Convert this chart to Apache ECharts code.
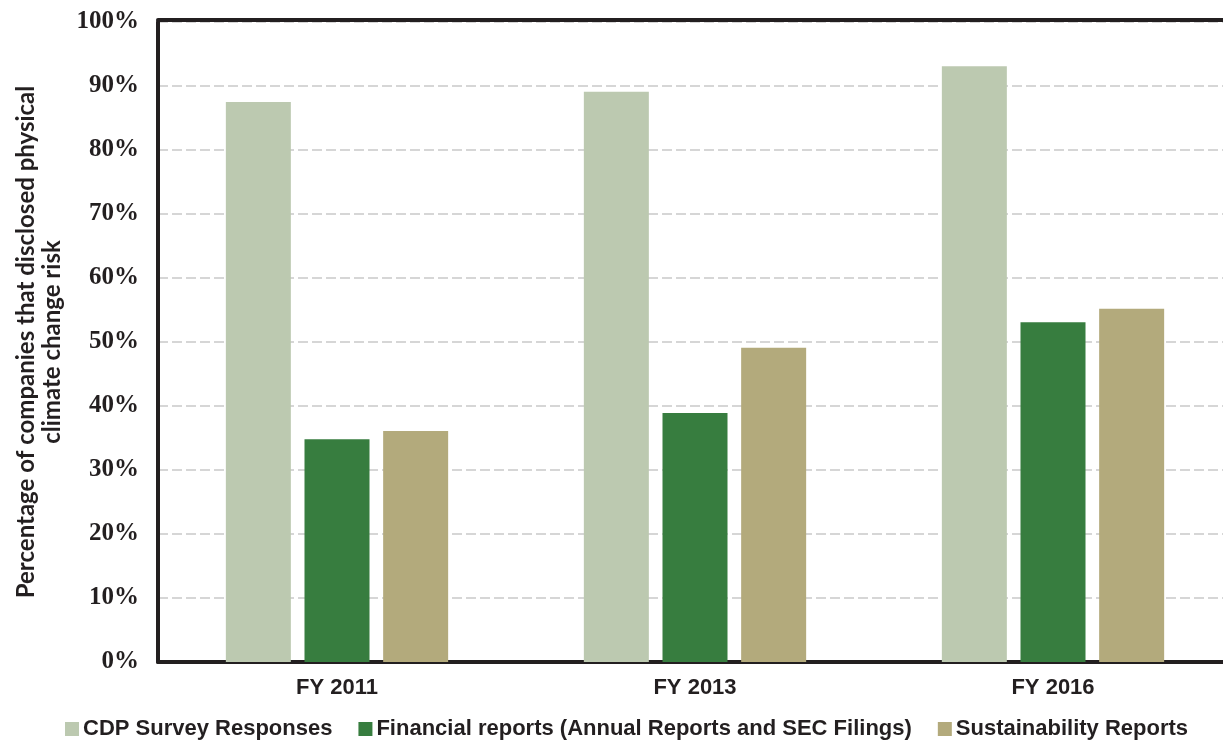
<!DOCTYPE html>
<html><head><meta charset="utf-8">
<script src="https://cdn.jsdelivr.net/npm/echarts@6/dist/echarts.min.js"></script>
<style>html,body{margin:0;padding:0;background:#fff}#c{width:1223px;height:741px}</style>
</head><body><div id="c"></div>
<script>
const categories = ['FY 2011', 'FY 2013', 'FY 2016'];
const seriesNames = ['CDP Survey Responses', 'Financial reports (Annual Reports and SEC Filings)', 'Sustainability Reports'];
const cdpValues = [87.5, 89.1, 93.1];
const financialValues = [34.8, 38.9, 53.1];
const sustainabilityValues = [36.1, 49.1, 55.2];
const yTicks = [0, 10, 20, 30, 40, 50, 60, 70, 80, 90, 100];
const yTitle = 'Percentage of companies that disclosed physical\nclimate change risk';

const colors = ['#bcc9b0', '#377d3f', '#b3aa7c'];
const labelFont = 'Liberation Sans';
const chart = echarts.init(document.getElementById('c'));
chart.setOption({
  animation: false,
  grid: { left: 158, top: 22, width: 1074, bottom: 79, containLabel: false, outerBoundsMode: 'none' },
  legend: {
    bottom: -4, left: 60, itemWidth: 14, itemHeight: 14, itemGap: 26,
    icon: 'rect',
    textStyle: { fontFamily: labelFont, fontWeight: 'bold', fontSize: 22, color: '#231f20', padding: [0,0,0,-1] },
    data: seriesNames
  },
  xAxis: [{
    type: 'category', data: categories, position: 'bottom',
    axisLine: { lineStyle: { color: '#231f20', width: 4 } },
    axisTick: { show: false },
    axisLabel: { fontFamily: labelFont, fontWeight: 'bold', fontSize: 22, color: '#231f20', margin: 15 }
  }, {
    type: 'category', data: categories, position: 'top', offset: 2,
    axisLine: { lineStyle: { color: '#231f20', width: 4 } },
    axisTick: { show: false }, axisLabel: { show: false }
  }],
  yAxis: {
    type: 'value', min: yTicks[0], max: yTicks[yTicks.length - 1], interval: 10,
    name: yTitle, nameLocation: 'middle', nameGap: 93, nameRotate: 90,
    nameTextStyle: { fontFamily: 'Lato', fontWeight: 'bold', fontSize: 24, color: '#231f20', lineHeight: 26 },
    axisLine: { show: true, lineStyle: { color: '#231f20', width: 4 } },
    axisTick: { show: false },
    axisLabel: { formatter: '{value}%', fontFamily: 'Liberation Serif', fontWeight: 'bold', fontSize: 25, color: '#231f20', margin: 19 },
    splitLine: { show: true, lineStyle: { color: '#d6d6d6', width: 2, type: [10, 4] } }
  },
  series: [
    { name: seriesNames[0], type: 'bar', data: cdpValues, barWidth: 65, barGap: '21%', itemStyle: { color: colors[0] } },
    { name: seriesNames[1], type: 'bar', data: financialValues, barWidth: 65, barGap: '21%', itemStyle: { color: colors[1] } },
    { name: seriesNames[2], type: 'bar', data: sustainabilityValues, barWidth: 65, barGap: '21%', itemStyle: { color: colors[2] } }
  ]
});
</script></body></html>
